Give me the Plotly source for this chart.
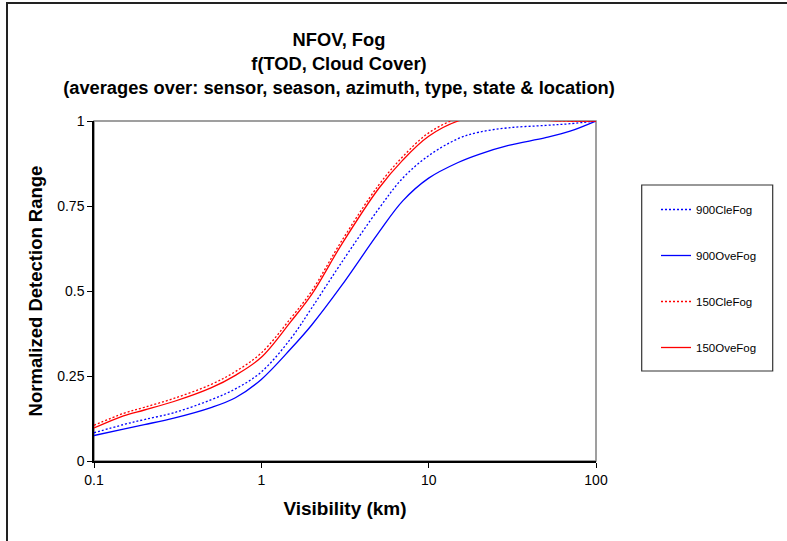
import plotly.graph_objects as go

# ---- data ----
visibility_km = [0.1, 0.15, 0.2, 0.3, 0.5, 0.7, 1, 1.5, 2, 3, 5, 7, 10, 15, 20, 30, 50, 70, 100]

cle_900 = [0.083, 0.107, 0.122, 0.142, 0.180, 0.212, 0.262, 0.360, 0.450, 0.582, 0.740, 0.832,
           0.898, 0.948, 0.967, 0.980, 0.987, 0.992, 1.0]
ove_900 = [0.075, 0.094, 0.107, 0.126, 0.157, 0.186, 0.240, 0.330, 0.400, 0.514, 0.670, 0.765,
           0.832, 0.878, 0.902, 0.928, 0.951, 0.970, 1.0]
cle_150 = [0.105, 0.140, 0.158, 0.184, 0.225, 0.263, 0.318, 0.420, 0.500, 0.645, 0.810, 0.895,
           0.965, 1.008, 1.018, 1.015, 1.003, 1.000, 1.0]
ove_150 = [0.097, 0.133, 0.150, 0.175, 0.215, 0.252, 0.305, 0.410, 0.490, 0.635, 0.800, 0.885,
           0.955, 1.000, 1.012, 1.012, 1.002, 1.000, 1.0]

series_names = ["900CleFog", "900OveFog", "150CleFog", "150OveFog"]
series_values = [cle_900, ove_900, cle_150, ove_150]
series_colors = ["#0000FF", "#0000FF", "#FF0000", "#FF0000"]
series_dash = ["2px,2px", "solid", "2px,2px", "solid"]

x_tick_vals = [0.1, 1, 10, 100]
x_tick_text = ["0.1", "1", "10", "100"]
y_tick_vals = [0, 0.25, 0.5, 0.75, 1]
y_tick_text = ["0", "0.25", "0.5", "0.75", "1"]

title_lines = ["NFOV, Fog", "f(TOD, Cloud Cover)",
               "(averages over: sensor, season, azimuth, type, state & location)"]

FONT = "Liberation Sans, Arial, sans-serif"

fig = go.Figure()
for i, (name, vals, col, dash) in enumerate(zip(series_names, series_values, series_colors, series_dash)):
    fig.add_trace(go.Scatter(
        x=visibility_km, y=vals, name=name, mode="lines",
        line=dict(color=col, width=1.3, dash=dash, shape="spline", smoothing=1.0),
        legendgroup=f"g{i}",
    ))

W, H = 787, 541
L, R, T, B = 94, 596, 121, 461
pw, ph = R - L, B - T

def px(xpix):
    return (xpix - L) / pw

def py(ypix):
    return (B - ypix) / ph

shapes = [
    # outer chart frame (left and top edges visible)
    dict(type="rect", xref="paper", yref="paper", x0=px(7), x1=px(820), y0=py(3), y1=py(580),
         line=dict(color="#222222", width=2), layer="below"),
    # plot-area frame (gray top/right)
    dict(type="rect", xref="paper", yref="paper", x0=0, x1=1, y0=0, y1=1,
         line=dict(color="#808080", width=1.5), layer="below"),
    # legend box
    dict(type="rect", xref="paper", yref="paper", x0=px(641.7), x1=px(772.7), y0=py(371), y1=py(185),
         line=dict(color="#333333", width=1.2), fillcolor="white", layer="below"),
]

fig.update_layout(
    width=W, height=H,
    margin=dict(l=L, r=W - R, t=T, b=H - B, pad=0),
    paper_bgcolor="white", plot_bgcolor="white",
    font=dict(family=FONT, color="black", size=14),
    title=dict(text="<br>".join(title_lines), x=339 / W, xanchor="center",
               y=1 - 46 / H, yanchor="top",
               font=dict(family=FONT, size=18.3, color="black", weight="bold")),
    showlegend=True,
    legend=dict(x=px(656), xanchor="left", y=py(195), yanchor="top",
                bgcolor="rgba(0,0,0,0)", borderwidth=0,
                font=dict(family=FONT, size=11.5, color="black"),
                tracegroupgap=27, itemwidth=30),
    shapes=shapes,
)

fig.update_xaxes(
    type="log", range=[-1, 2],
    tickmode="array", tickvals=x_tick_vals, ticktext=x_tick_text,
    ticks="outside", ticklen=5, tickcolor="black", tickwidth=1,
    showline=True, linecolor="black", linewidth=1.5, mirror=False,
    showgrid=False, zeroline=False,
    tickfont=dict(family=FONT, size=14, color="black"),
    title=dict(text="Visibility (km)", standoff=15,
               font=dict(family=FONT, size=19, color="black", weight="bold")),
)
fig.update_yaxes(
    range=[0, 1],
    tickmode="array", tickvals=y_tick_vals, ticktext=y_tick_text,
    ticks="outside", ticklen=5, tickcolor="black", tickwidth=1,
    showline=True, linecolor="black", linewidth=1.5, mirror=False,
    showgrid=False, zeroline=False,
    tickfont=dict(family=FONT, size=14, color="black"),
    title=dict(text="Normalized Detection Range", standoff=10,
               font=dict(family=FONT, size=18.5, color="black", weight="bold")),
)

fig.write_html("out.html", config={"displayModeBar": False},
               post_script="document.body.style.margin='0px';")
